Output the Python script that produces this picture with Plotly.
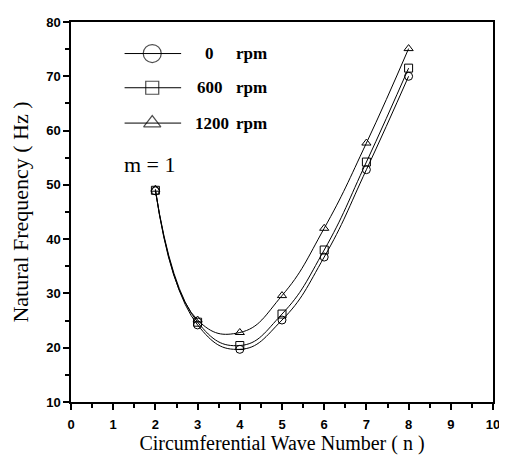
import plotly.graph_objects as go

n_values = [2, 3, 4, 5, 6, 7, 8]
freq_0rpm = [48.9, 24.2, 19.7, 25.1, 36.7, 52.8, 70.0]
freq_600rpm = [49.0, 24.7, 20.4, 26.2, 38.0, 54.2, 71.5]
freq_1200rpm = [49.2, 25.1, 22.8, 29.6, 42.0, 57.7, 75.1]
speeds = ["0", "600", "1200"]
unit = "rpm"
symbols = ["circle-open", "square-open", "triangle-up-open"]
legend_marker_sizes = [18, 13, 15]

serif = "Liberation Serif, Times New Roman, serif"
sans = "Liberation Sans, Arial, sans-serif"

fig = go.Figure()

for vals, sp, sym in zip([freq_0rpm, freq_600rpm, freq_1200rpm], speeds, symbols):
    fig.add_trace(go.Scatter(
        x=n_values, y=vals, mode="lines+markers", name=f"{sp} {unit}",
        line=dict(color="black", width=1, shape="spline", smoothing=1.3),
        marker=dict(symbol=sym, size=8, color="black", line=dict(width=1, color="black")),
        showlegend=False,
    ))

# hand-drawn legend on an overlaid unit axis
leg_x0, leg_xm, leg_x1 = 0.127, 0.1925, 0.261
leg_rows = [0.917, 0.827, 0.734]
for sp, sym, ms, ry in zip(speeds, symbols, legend_marker_sizes, leg_rows):
    fig.add_trace(go.Scatter(
        x=[leg_x0, leg_xm, leg_x1], y=[ry, ry, ry], mode="lines+markers",
        xaxis="x2", yaxis="y2", showlegend=False, hoverinfo="skip",
        line=dict(color="black", width=1),
        marker=dict(symbol=sym, size=[0, ms, 0], color="black", line=dict(width=1.2, color="black")),
    ))
    if sp == "1200":
        fig.add_annotation(text=sp, x=0.288, y=ry, xref="paper", yref="paper", xanchor="left",
                           yanchor="middle", showarrow=False,
                           font=dict(family=serif, size=17, color="black", weight="bold"))
    else:
        fig.add_annotation(text=sp, x=0.3286, y=ry, xref="paper", yref="paper", xanchor="center",
                           yanchor="middle", showarrow=False,
                           font=dict(family=serif, size=17, color="black", weight="bold"))
    fig.add_annotation(text=unit, x=0.387, y=ry, xref="paper", yref="paper", xanchor="left",
                       yanchor="middle", showarrow=False,
                       font=dict(family=serif, size=17, color="black", weight="bold"))

fig.add_annotation(text="m = 1", x=0.122, y=0.625, xref="paper", yref="paper",
                   xanchor="left", yanchor="middle", showarrow=False,
                   font=dict(family=serif, size=22, color="black"))

fig.update_layout(
    xaxis2=dict(overlaying="x", range=[0, 1], visible=False, fixedrange=True),
    yaxis2=dict(overlaying="y", range=[0, 1], visible=False, fixedrange=True),
)

fig.update_layout(
    xaxis=dict(
        range=[0, 10], dtick=1, ticks="outside", ticklen=6, tickwidth=1.5, tickcolor="black",
        minor=dict(dtick=0.5, ticks="outside", ticklen=4, tickcolor="black"),
        showline=True, linecolor="black", linewidth=1.5, mirror=True, showgrid=False, zeroline=False,
        tickfont=dict(family=sans, size=13, color="black", weight="bold"),
        ticklabeloverflow="allow", ticklabelstandoff=4,
        title=dict(text="Circumferential Wave Number ( n )", font=dict(family=serif, size=20, color="black"), standoff=0),
    ),
    yaxis=dict(
        range=[10, 80], dtick=10, ticks="outside", ticklen=6, tickwidth=1.5, tickcolor="black",
        minor=dict(dtick=5, ticks="outside", ticklen=4, tickcolor="black"),
        showline=True, linecolor="black", linewidth=1.5, mirror=True, showgrid=False, zeroline=False,
        tickfont=dict(family=sans, size=13, color="black", weight="bold"),
        title=dict(text="Natural Frequency ( Hz )", font=dict(family=serif, size=22, color="black"), standoff=12),
    ),
    width=499, height=457, plot_bgcolor="white", paper_bgcolor="white",
    margin=dict(l=63, r=10, t=7, b=63),
)
fig.write_html("out.html")
